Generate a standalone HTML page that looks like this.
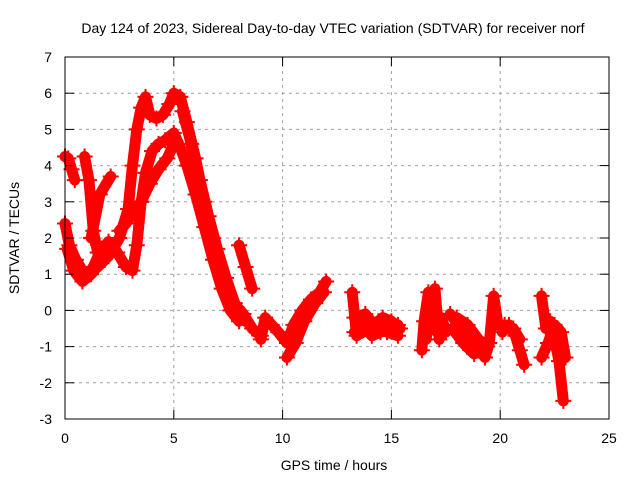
<!DOCTYPE html>
<html><head><meta charset="utf-8"><style>
body{margin:0;background:#fff}
svg{display:block;font-family:"Liberation Sans",sans-serif}
</style></head><body>
<svg id="chart" width="640" height="480" viewBox="0 0 640 480">
<rect width="640" height="480" fill="#fff"/>
<text x="333" y="33" font-size="14" text-anchor="middle">Day 124 of 2023, Sidereal Day-to-day VTEC variation (SDTVAR) for receiver norf</text>
<g id="grid"></g>
<g id="series"></g>
<g id="axes"></g>
<text x="334" y="470" font-size="14" text-anchor="middle">GPS time / hours</text>
<text transform="translate(19,238) rotate(-90)" font-size="14" text-anchor="middle">SDTVAR / TECUs</text>
</svg>
<script>
const xTicks=[0,5,10,15,20,25];
const yTicks=[-3,-2,-1,0,1,2,3,4,5,6,7];
const track1=[[0,4.25],[0.15,4.2],[0.3,3.9],[0.45,3.6]];
const track2=[[0,2.4],[0.2,1.8],[0.5,1.4],[0.8,1.1],[1.0,0.95],[1.3,1.2],[1.6,1.6],[2.0,1.9],[2.4,1.6],[2.8,1.2],[3.1,1.1],[3.3,1.8],[3.5,3.0],[3.7,3.8],[4.0,4.4],[4.3,4.6],[4.6,4.7],[5.0,4.9],[5.3,4.5],[5.6,4.0],[6.0,3.2],[6.4,2.3],[6.8,1.4],[7.2,0.6],[7.6,0.0],[8.0,-0.3]];
const track3=[[1.5,1.2],[2.0,1.5],[2.5,2.0],[2.9,2.8],[3.1,4.0],[3.3,5.0],[3.5,5.6],[3.7,5.9],[3.9,5.4],[4.2,5.3],[4.5,5.4],[4.8,5.7],[5.0,6.0],[5.3,5.9],[5.6,5.2],[6.0,4.2],[6.4,3.0],[6.8,2.0],[7.2,1.0],[7.6,0.3],[8.2,-0.1],[8.6,-0.5],[9.0,-0.7]];
const track4=[[2.5,2.2],[2.8,2.4],[3.1,2.7],[3.5,3.0],[3.9,3.5],[4.3,3.9],[4.7,4.2],[5.0,4.6]];
const track5=[[0.9,4.25],[1.1,3.6],[1.3,2.2],[1.5,1.6]];
const track6=[[1.2,2.0],[1.6,3.2],[2.1,3.7]];
const track7=[[8.0,1.8],[8.3,1.2],[8.6,0.6]];
const track8=[[9.0,-0.8],[9.2,-0.2],[9.5,-0.4],[9.8,-0.6],[10.2,-0.9],[10.5,-0.4],[10.9,0.0],[11.3,0.3],[11.7,0.5],[12.0,0.8]];
const track9=[[10.2,-1.3],[10.6,-0.9],[11.0,-0.3],[11.5,0.2],[11.9,0.5]];
const track10=[[13.2,0.5],[13.4,-0.7],[14.0,-0.5],[14.4,-0.3],[14.8,-0.6],[15.3,-0.7]];
const track11=[[13.3,-0.2],[13.8,-0.1],[14.2,-0.4],[14.6,-0.2],[15.0,-0.3],[15.4,-0.5]];
const track12=[[16.4,-1.1],[16.5,-0.3],[16.7,0.5],[16.9,-0.4],[17.1,-0.6],[17.3,-0.2],[17.5,-0.6]];
const track13=[[16.6,-0.8],[16.8,0.2],[17.0,0.6],[17.2,-0.8],[17.4,-0.4]];
const track14=[[17.7,-0.1],[18.1,-0.4],[18.5,-0.7],[18.9,-1.0],[19.3,-1.3],[19.5,-0.9],[19.7,0.4],[19.9,-0.4],[20.1,-0.5]];
const track15=[[17.8,-0.5],[18.3,-0.9],[18.8,-1.2],[19.1,-1.1]];
const track16=[[20.1,-0.6],[20.4,-0.4],[20.7,-0.7],[20.9,-1.1],[21.1,-1.5]];
const track17=[[21.9,0.4],[22.1,-0.5],[22.3,-0.3],[22.5,-0.8],[22.7,-1.4],[22.9,-2.5]];
const track18=[[21.9,-1.3],[22.2,-0.9],[22.5,-0.4],[22.8,-0.6],[23.0,-1.3]];
const track19=[[13.3,-0.6],[13.7,-0.4],[14.1,-0.7],[14.5,-0.6],[15.0,-0.5],[15.3,-0.4]];
const track20=[[5.4,5.5],[5.8,4.6],[6.2,3.6],[6.6,2.6],[7.0,1.7],[7.4,0.9],[7.8,0.2],[8.3,-0.3]];
const track21=[[0.1,1.7],[0.4,1.1],[0.8,0.8],[1.2,1.0],[1.6,1.3]];
const track22=[[18.0,-0.2],[18.5,-0.4],[19.0,-0.8],[19.4,-1.0]];
const track23=[[20.2,-0.4],[20.6,-0.5],[20.9,-0.8]];
const tracks=[track1,track2,track3,track4,track5,track6,track7,track8,track9,track10,track11,track12,track13,track14,track15,track16,track17,track18,track19,track20,track21,track22,track23];

const X0=65,X1=609,Y0=419,Y1=57;
const xs=t=>X0+(t-0)/(25-0)*(X1-X0);
const ys=v=>Y0-(v+3)/10*(Y0-Y1);
const NS='http://www.w3.org/2000/svg';
function mk(tag,attrs,parent){const e=document.createElementNS(NS,tag);for(const k in attrs)e.setAttribute(k,attrs[k]);parent.appendChild(e);return e;}
const grid=document.getElementById('grid'),axes=document.getElementById('axes'),ser=document.getElementById('series');
xTicks.forEach(t=>{
  const x=xs(t);
  if(t>0&&t<25){const g=mk('line',{x1:x,x2:x,y1:Y1,y2:Y0,stroke:'#a0a0a0','stroke-dasharray':'3,4'},grid);
  
  }
  mk('line',{x1:x,x2:x,y1:Y0,y2:Y0-9,stroke:'#000'},axes);
  mk('line',{x1:x,x2:x,y1:Y1,y2:Y1+9,stroke:'#000'},axes);
  const l=mk('text',{x:x,y:443,'font-size':14,'text-anchor':'middle'},axes);l.textContent=t;
  
  
});
yTicks.forEach(v=>{
  const y=ys(v);
  if(v>-3&&v<7){const g=mk('line',{x1:X0,x2:X1,y1:y,y2:y,stroke:'#a0a0a0','stroke-dasharray':'3,4'},grid);
  
  }
  mk('line',{x1:X0,x2:X0+9,y1:y,y2:y,stroke:'#000'},axes);
  mk('line',{x1:X1,x2:X1-9,y1:y,y2:y,stroke:'#000'},axes);
  const l=mk('text',{x:52,y:y+5,'font-size':14,'text-anchor':'end'},axes);l.textContent=v;
  
  
});
const fr=mk('rect',{x:X0,y:Y1,width:X1-X0,height:Y0-Y1,fill:'none',stroke:'#000'},axes);


tracks.forEach(tr=>{
  const pl=mk('polyline',{points:tr.map(p=>xs(p[0])+','+ys(p[1])).join(' '),fill:'none',stroke:'#f00','stroke-width':11,'stroke-linejoin':'round','stroke-linecap':'round'},ser);
  
  
  tr.forEach(p=>{
    const x=xs(p[0]),y=ys(p[1]);
    const m=mk('path',{d:`M${x-8},${y}H${x+8}M${x},${y-8}V${y+8}`,stroke:'#f00','stroke-width':2},ser);
    
    
  });
});
</script>
</body></html>
